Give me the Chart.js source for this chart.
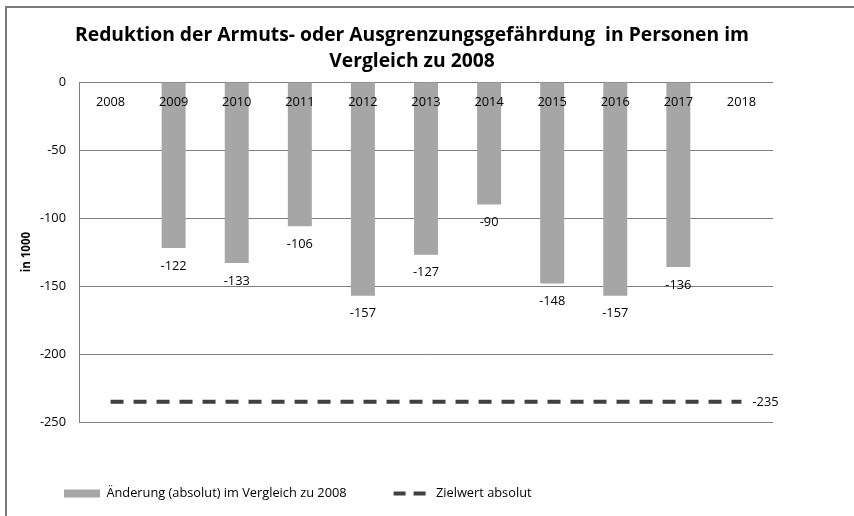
<!DOCTYPE html>
<html><head><meta charset="utf-8">
<script src="https://cdn.jsdelivr.net/npm/chart.js@4"></script>
<style>html,body{margin:0;padding:0;background:#fff}#wrap{width:854px;height:516px}</style>
</head><body><div id="wrap"><canvas id="c" width="854" height="516"></canvas></div>
<script>
const categories = ['2008','2009','2010','2011','2012','2013','2014','2015','2016','2017','2018'];
const changeValues = [null,-122,-133,-106,-157,-127,-90,-148,-157,-136,null];
const targetValues = [-235,-235,-235,-235,-235,-235,-235,-235,-235,-235,-235];
const yTicks = [0,-50,-100,-150,-200,-250];
const titleLines = ['Reduktion der Armuts- oder Ausgrenzungsgefährdung  in Personen im','Vergleich zu 2008'];
const seriesNames = ['Änderung (absolut) im Vergleich zu 2008','Zielwert absolut'];
const yAxisTitle = 'in 1000';

const FONT = '"Open Sans", Lato, sans-serif';
const GRID = '#7f7f7f';

const framePlugin = {
  id: 'frame',
  beforeDraw(chart) {
    const ctx = chart.ctx;
    ctx.save();
    ctx.fillStyle = '#fff';
    ctx.fillRect(0, 0, chart.width, chart.height);
    ctx.strokeStyle = '#7a7a7a';
    ctx.lineWidth = 2;
    ctx.beginPath();
    ctx.moveTo(6, chart.height);
    ctx.lineTo(6, 7);
    ctx.lineTo(chart.width, 7);
    ctx.stroke();
    ctx.restore();
  }
};

const titlePlugin = {
  id: 'customTitle',
  afterDraw(chart) {
    const ctx = chart.ctx;
    ctx.save();
    ctx.font = 'bold 19.3px ' + FONT;
    ctx.fillStyle = '#000';
    ctx.textAlign = 'center';
    ctx.textBaseline = 'middle';
    titleLines.forEach((t, i) => ctx.fillText(t, 412, 36 + i * 26));
    ctx.restore();
  }
};

const labelPlugin = {
  id: 'valueLabels',
  afterDatasetsDraw(chart) {
    const ctx = chart.ctx;
    ctx.save();
    ctx.font = '12.8px ' + FONT;
    ctx.fillStyle = '#000';
    ctx.textBaseline = 'middle';
    const barMeta = chart.getDatasetMeta(0);
    ctx.textAlign = 'center';
    barMeta.data.forEach((el, i) => {
      const v = changeValues[i];
      if (v === null) return;
      ctx.fillText(String(v), el.x, el.y + 18);
    });
    const lineMeta = chart.getDatasetMeta(1);
    const last = lineMeta.data[lineMeta.data.length - 1];
    ctx.textAlign = 'left';
    ctx.fillText(String(targetValues[targetValues.length - 1]), last.x + 11, last.y + 1);
    ctx.restore();
  }
};

new Chart(document.getElementById('c'), {
  type: 'bar',
  data: {
    labels: categories,
    datasets: [
      {
        type: 'bar',
        label: seriesNames[0],
        data: changeValues,
        backgroundColor: '#a6a6a6',
        borderWidth: 0,
        barPercentage: 0.38,
        categoryPercentage: 1.0,
        order: 2
      },
      {
        type: 'line',
        label: seriesNames[1],
        data: targetValues,
        borderColor: '#404040',
        backgroundColor: '#404040',
        borderWidth: 4,
        borderDash: [13, 10],
        pointRadius: 0,
        fill: false,
        order: 1
      }
    ]
  },
  options: {
    responsive: false,
    animation: false,
    devicePixelRatio: 1,
    layout: { padding: { left: 17, right: 81, top: 82, bottom: 6 } },
    plugins: {
      title: { display: false },
      tooltip: { enabled: false },
      legend: {
        display: true,
        position: 'bottom',
        align: 'start',
        title: { display: true, text: '', font: { size: 10, lineHeight: 1 }, padding: { top: 5, bottom: 3 } },
        labels: {
          usePointStyle: true,
          pointStyleWidth: 36,
          boxHeight: 8,
          padding: 47,
          color: '#000',
          font: { family: FONT, size: 12.8 },
          generateLabels: (chart) => chart.data.datasets.map((ds, i) => ({
            text: ds.label,
            datasetIndex: i,
            hidden: false,
            fontColor: '#000',
            fillStyle: ds.type === 'line' ? 'rgba(0,0,0,0)' : ds.backgroundColor,
            strokeStyle: ds.type === 'line' ? ds.borderColor : ds.backgroundColor,
            lineWidth: ds.type === 'line' ? 4 : 0,
            lineDash: ds.type === 'line' ? [12, 8] : [],
            lineCap: 'butt',
            pointStyle: ds.type === 'line' ? 'line' : 'rect'
          }))
        }
      }
    },
    scales: {
      x: {
        type: 'category',
        position: { y: 0 },
        offset: true,
        grid: { display: false, drawTicks: false },
        border: { display: false },
        ticks: { z: 1, color: '#000', font: { family: FONT, size: 12.8 }, padding: 13, maxRotation: 0, autoSkip: false }
      },
      y: {
        type: 'linear',
        position: 'left',
        min: -250,
        max: 0,
        afterBuildTicks: (s) => { s.ticks = yTicks.map(v => ({ value: v })); },
        afterFit: (s) => { s.width = 62; },
        grid: { color: GRID, lineWidth: 1, drawTicks: false },
        border: { display: true, color: GRID, width: 1 },
        ticks: { color: '#000', font: { family: FONT, size: 12.8 }, padding: 13 },
        title: { display: true, text: yAxisTitle, color: '#000', font: { family: FONT, size: 11.5, weight: 'bold' }, padding: { top: 3, bottom: 0 } }
      }
    }
  },
  plugins: [framePlugin, titlePlugin, labelPlugin]
});
</script>
</body></html>
